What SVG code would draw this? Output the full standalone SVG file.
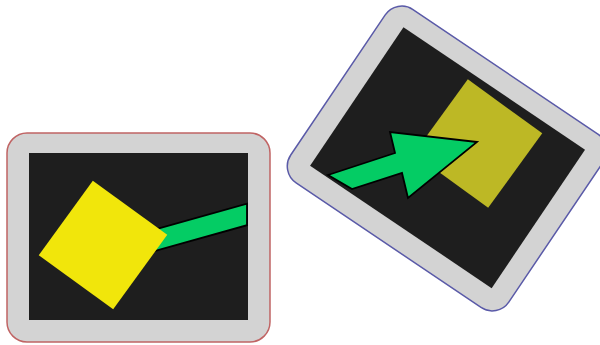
<svg xmlns="http://www.w3.org/2000/svg" width="600" height="345" viewBox="0 0 600 345">
  <defs>
    <style>
      .outer { fill: #d3d3d3; stroke-width: 1.5; }
      .inner { fill: #1e1e1e; }
      .green { fill: #04cc64; stroke: #000; stroke-width: 1.8; stroke-linejoin: miter; }
    </style>
  </defs>
  <rect width="600" height="345" fill="#ffffff"/>

  <g id="frame-left" transform="translate(138.5,237.5)">
    <rect class="outer" x="-131.5" y="-104.5" width="263" height="209" rx="20" ry="20" stroke="#c06464"/>
    <rect class="inner" x="-109.5" y="-84.5" width="219" height="167"/>
  </g>

  <g id="frame-right" transform="translate(447,158.5) rotate(34)">
    <rect class="outer" x="-131.5" y="-104.5" width="263" height="209" rx="20" ry="20" stroke="#5a5aa8"/>
    <rect class="inner" x="-109.5" y="-84.5" width="219" height="167"/>
  </g>

  <g id="connectors">
    <polygon id="bar-left" class="green" points="150,230.8 247,203.6 247,225.2 150,252.3"/>
  </g>

  <g id="square-left">
    <rect x="-46" y="-46" width="92" height="92" fill="#f1e60b" transform="translate(103,245) rotate(36)"/>
  </g>

  <g id="square-right">
    <rect x="-46" y="-46" width="92" height="92" fill="#bdb825" transform="translate(478,143.5) rotate(36)"/>
  </g>

  <g id="arrow-right">
    <polygon class="green" points="328,175 395,153 390,132 477,142 408,198 402,173 352,189"/>
  </g>
</svg>
